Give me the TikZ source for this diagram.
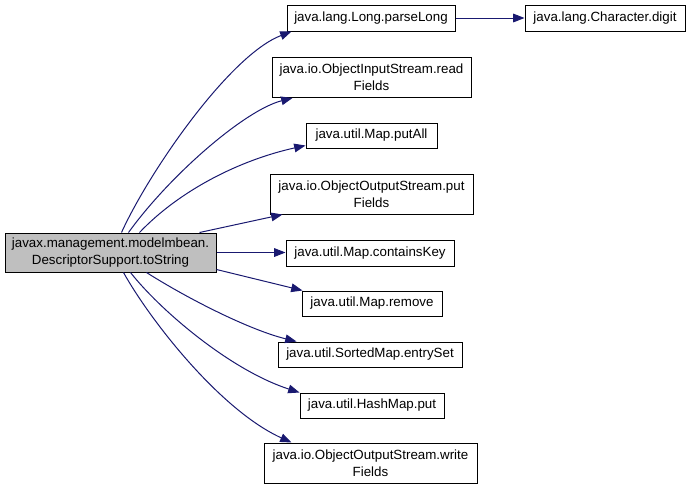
\documentclass[tikz,border=0pt]{standalone}
\usepackage{fontspec}
\setmainfont{Liberation Sans}
\usetikzlibrary{arrows.meta,calc}
\definecolor{edgeblue}{HTML}{191970}
\definecolor{srcgray}{HTML}{BFBFBF}
\begin{document}
\begin{tikzpicture}[x=0.75pt,y=-0.75pt,
  box/.style={draw=black, line width=0.75pt, inner sep=0pt, align=center,
    font=\fontsize{10}{12.5}\selectfont, fill=white},
  sz/.style 2 args={minimum width=#1*0.75pt, minimum height=#2*0.75pt},
  call/.style={draw=edgeblue, line width=0.75pt,
    -{Triangle[length=8.5pt,width=6.5pt]}}]
\useasboundingbox (0,0) rectangle (691,490);

\node[box, fill=srcgray, sz={211}{39}] (src) at (110.5,252.5)
  {javax.management.modelmbean.\\DescriptorSupport.toString};
\node[box, sz={168}{26}] (pl) at (371,18) {java.lang.Long.parseLong};
\node[box, sz={160}{26}] (dg) at (605,18) {java.lang.Character.digit};
\node[box, sz={199}{40}] (rf) at (371.5,77.5) {java.io.ObjectInputStream.read\\Fields};
\node[box, sz={131}{25}] (pa) at (371.5,135.5) {java.util.Map.putAll};
\node[box, sz={203}{40}] (pf) at (371.5,194) {java.io.ObjectOutputStream.put\\Fields};
\node[box, sz={168}{26}] (ck) at (370,253) {java.util.Map.containsKey};
\node[box, sz={140}{25}] (rm) at (372,303.5) {java.util.Map.remove};
\node[box, sz={184}{25}] (es) at (370,354.5) {java.util.SortedMap.entrySet};
\node[box, sz={144}{25}] (hp) at (372,405.5) {java.util.HashMap.put};
\node[box, sz={213}{40}] (wf) at (370.5,463) {java.io.ObjectOutputStream.write\\Fields};

\draw[call] ($(src.north west)+(117,0)$) .. controls (150,170) and (230,55) .. ($(pl.south west)+(5,0)$);
\draw[call] ($(src.north west)+(124,0)$) .. controls (170,175) and (245,110) .. ($(rf.south west)+(21,0)$);
\draw[call] ($(src.north west)+(135,0)$) .. controls (180,190) and (240,160) .. ($(pa.south west)+(0,-3)$);
\draw[call] ($(src.north west)+(195,0)$) -- ($(pf.south west)+(13,0)$);
\draw[call] (src.east) -- (src.east -| ck.west);
\draw[call] ($(src.south east)+(0,-3)$) -- ($(rm.north west)+(1,0)$);
\draw[call] ($(src.south west)+(142,0)$) .. controls (190,300) and (250,330) .. ($(es.north west)+(19,0)$);
\draw[call] ($(src.south west)+(126,0)$) .. controls (160,310) and (230,370) .. (hp.north west);
\draw[call] ($(src.south west)+(119,0)$) .. controls (150,320) and (220,410) .. ($(wf.north west)+(28,0)$);
\draw[call] (pl.east) -- (dg.west);
\end{tikzpicture}
\end{document}
